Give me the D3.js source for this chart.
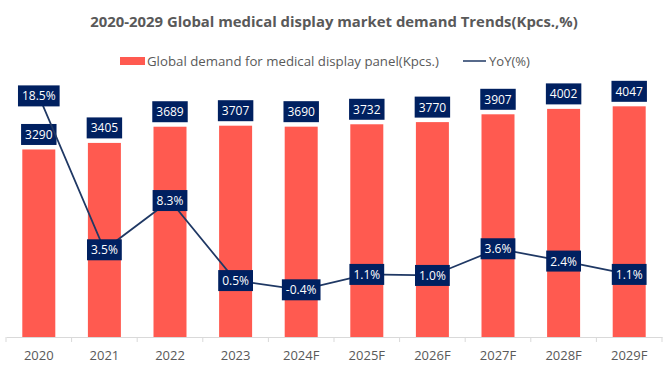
<!DOCTYPE html>
<html><head><meta charset="utf-8">
<script src="https://cdn.jsdelivr.net/npm/d3@7"></script>
<style>body{margin:0;background:#fff}svg{display:block}</style>
</head><body>
<svg id="c" width="666" height="380"></svg>
<script>
const categories = ["2020","2021","2022","2023","2024F","2025F","2026F","2027F","2028F","2029F"];
const demand = [3290,3405,3689,3707,3690,3732,3770,3907,4002,4047];
const yoy = [18.5,3.5,8.3,0.5,-0.4,1.1,1.0,3.6,2.4,1.1];
const title = "2020-2029 Global medical display market demand Trends(Kpcs.,%)";
const legendLabels = ["Global demand for medical display panel(Kpcs.)","YoY(%)"];

const svg = d3.select("#c");
const FONT = "'Open Sans', sans-serif";
const barColor = "#FF5A50", navy = "#002060", lineColor = "#1F3864", gray = "#595959";

const x = d3.scaleBand().domain(categories).range([6,662]).padding(0);
const yBar = d3.scaleLinear().domain([0,4500]).range([337,80.5]);
const yLine = d3.scaleLinear().domain([-5,20]).range([337,80.5]);
const bw = 33;

function fit(sel, target){ const w = sel.node().getComputedTextLength(); const fs = parseFloat(sel.attr("font-size")); sel.attr("font-size", fs*target/w); }

// title
const t = svg.append("text").attr("x",334).attr("y",27).attr("text-anchor","middle")
  .attr("font-family",FONT).attr("font-weight","bold").attr("font-size",15).attr("fill",gray).text(title);
fit(t,488);

// legend
svg.append("rect").attr("x",120).attr("y",57).attr("width",25).attr("height",8).attr("fill",barColor);
const l1 = svg.append("text").attr("x",147).attr("y",65.5).attr("font-family",FONT).attr("font-size",12.5).attr("fill",gray).text(legendLabels[0]);
fit(l1,292);
svg.append("line").attr("x1",463).attr("x2",486).attr("y1",61).attr("y2",61).attr("stroke",lineColor).attr("stroke-width",1.5);
const l2 = svg.append("text").attr("x",489).attr("y",65.5).attr("font-family",FONT).attr("font-size",12.5).attr("fill",gray).text(legendLabels[1]);
fit(l2,41);

// bars
svg.selectAll("rect.bar").data(categories).join("rect").attr("class","bar")
  .attr("x",d=>x(d)+x.bandwidth()/2-bw/2).attr("width",bw)
  .attr("y",(d,i)=>yBar(demand[i])).attr("height",(d,i)=>yBar(0)-yBar(demand[i]))
  .attr("fill",barColor);

// axis
const axis = d3.axisBottom(x).tickSize(0).tickSizeOuter(0);
const ag = svg.append("g").attr("transform","translate(0,337)").call(axis);
ag.select(".domain").attr("stroke","#D9D9D9");
ag.selectAll(".tick text").attr("font-family",FONT).attr("font-size",13).attr("fill",gray).attr("dy","0").attr("y",23);
const bounds = categories.map(d=>x(d)).concat([x.range()[1]]);
ag.selectAll("line.sep").data(bounds).join("line").attr("class","sep")
  .attr("x1",d=>d).attr("x2",d=>d).attr("y1",0).attr("y2",5).attr("stroke","#D9D9D9");

// label helper
function labelBox(g, cx, cy, txt){
  const tx = g.append("text").attr("x",cx).attr("y",cy).attr("text-anchor","middle").attr("dominant-baseline","central")
    .attr("font-family",FONT).attr("font-size",12).attr("fill","#fff").text(txt);
  const w = tx.node().getComputedTextLength()+8;
  g.insert("rect","text").attr("x",cx-w/2).attr("y",cy-10.5).attr("width",w).attr("height",21).attr("fill",navy);
}

// bar labels
categories.forEach((c,i)=>{
  const g = svg.append("g");
  labelBox(g, x(c)+x.bandwidth()/2, yBar(demand[i])-15, String(demand[i]));
});

// line
const line = d3.line().x((d,i)=>x(categories[i])+x.bandwidth()/2).y(d=>yLine(d));
svg.append("path").datum(yoy).attr("d",line).attr("fill","none").attr("stroke",lineColor).attr("stroke-width",1.75);

// line labels
yoy.forEach((v,i)=>{
  const g = svg.append("g");
  labelBox(g, x(categories[i])+x.bandwidth()/2, yLine(v), v.toFixed(1)+"%");
});
</script>
</body></html>
